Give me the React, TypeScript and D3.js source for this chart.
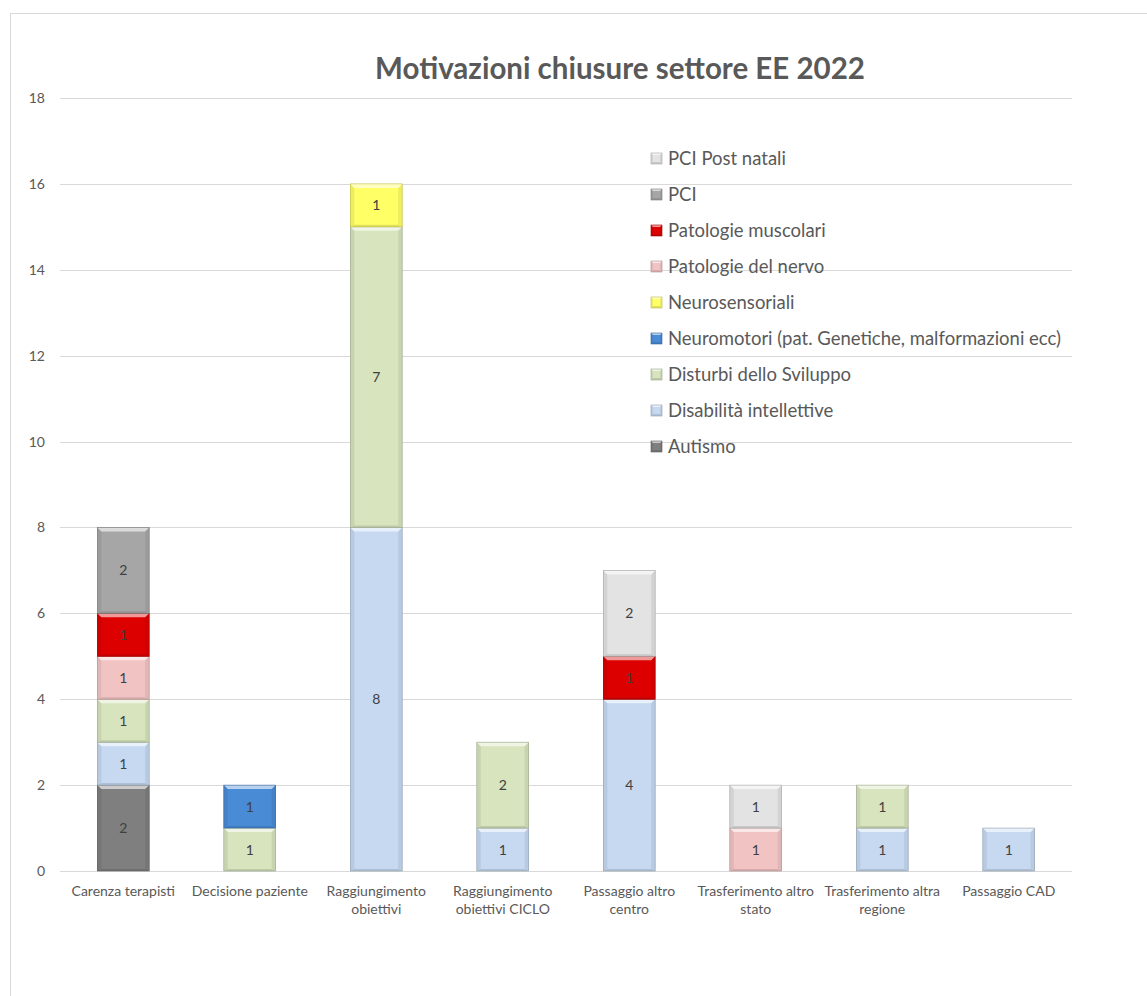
import React from "react";
import * as d3 from "d3";

const categories = [
  "Carenza terapisti",
  "Decisione paziente",
  "Raggiungimento obiettivi",
  "Raggiungimento obiettivi CICLO",
  "Passaggio altro centro",
  "Trasferimento altro stato",
  "Trasferimento altra regione",
  "Passaggio CAD",
];
const categoryLines = [
  ["Carenza terapisti"],
  ["Decisione paziente"],
  ["Raggiungimento", "obiettivi"],
  ["Raggiungimento", "obiettivi CICLO"],
  ["Passaggio altro", "centro"],
  ["Trasferimento altro", "stato"],
  ["Trasferimento altra", "regione"],
  ["Passaggio CAD"],
];
const seriesNames = [
  "Autismo",
  "Disabilità intellettive",
  "Disturbi dello Sviluppo",
  "Neuromotori (pat. Genetiche, malformazioni ecc)",
  "Neurosensoriali",
  "Patologie del nervo",
  "Patologie muscolari",
  "PCI",
  "PCI Post natali",
];
const autismo = [2, 0, 0, 0, 0, 0, 0, 0];
const disabilita = [1, 0, 8, 1, 4, 0, 1, 1];
const disturbi = [1, 1, 7, 2, 0, 0, 1, 0];
const neuromotori = [0, 1, 0, 0, 0, 0, 0, 0];
const neurosensoriali = [0, 0, 1, 0, 0, 0, 0, 0];
const patNervo = [1, 0, 0, 0, 0, 1, 0, 0];
const patMuscolari = [1, 0, 0, 0, 1, 0, 0, 0];
const pci = [2, 0, 0, 0, 0, 0, 0, 0];
const pciPostNatali = [0, 0, 0, 0, 2, 1, 0, 0];
const seriesValues = [autismo, disabilita, disturbi, neuromotori, neurosensoriali, patNervo, patMuscolari, pci, pciPostNatali];
const seriesColors = ["#7f7f7f", "#c6d9f1", "#d7e4bd", "#4a8bd6", "#ffff66", "#f2c3c3", "#dd0000", "#a6a6a6", "#e3e3e3"];
const yTicks = [0, 2, 4, 6, 8, 10, 12, 14, 16, 18];
const title = "Motivazioni chiusure settore EE 2022";

const FONT = "Lato, 'Open Sans', sans-serif";
const TXT = "#595959";

function Bevel({ x, y, w, h, color, b = 4 }: { x: number; y: number; w: number; h: number; color: string; b?: number }) {
  const c = d3.color(color)!;
  const light = d3.interpolateRgb(color, "#ffffff")(0.6);
  const dark = c.darker(0.35).formatHex();
  const side = c.darker(0.2).formatHex();
  const stroke = c.darker(0.9).formatHex();
  const bb = Math.min(b, h / 2, w / 2);
  const bbot = Math.min(2, bb);
  return (
    <g>
      <rect x={x} y={y} width={w} height={h} fill={color} />
      <polygon points={`${x},${y} ${x + bb},${y + bb} ${x + bb},${y + h - bbot} ${x},${y + h}`} fill={side} />
      <polygon points={`${x + w},${y} ${x + w - bb},${y + bb} ${x + w - bb},${y + h - bbot} ${x + w},${y + h}`} fill={side} />
      <polygon points={`${x},${y + h} ${x + w},${y + h} ${x + w - bb},${y + h - bbot} ${x + bb},${y + h - bbot}`} fill={dark} />
      <polygon points={`${x},${y} ${x + w},${y} ${x + w - bb},${y + bb} ${x + bb},${y + bb}`} fill={light} />
      <rect x={x} y={y} width={w} height={h} fill="none" stroke={stroke} strokeWidth={0.6} />
    </g>
  );
}

export default function App() {
  const W = 1147, H = 996;
  const x = d3.scaleBand<string>().domain(categories).range([60, 1072]).padding(0);
  const y = d3.scaleLinear().domain([0, 18]).range([871, 98]);
  const bw = x.step() * 0.41;

  const table = categories.map((c, i) => {
    const row: any = { cat: c };
    seriesNames.forEach((s, j) => (row[s] = seriesValues[j][i]));
    return row;
  });
  const stacked = d3.stack<any>().keys(seriesNames)(table);

  return (
    <svg width={W} height={H} style={{ position: "absolute", left: 0, top: 0, background: "#fff" }} fontFamily={FONT}>
      <rect x={10.5} y={13.5} width={W} height={H} fill="#fff" stroke="#d9d9d9" strokeWidth={1} />
      <text x={620} y={79} textAnchor="middle" fontSize={29.5} fontWeight="bold" fill={TXT}>{title}</text>
      {yTicks.map((t) => (
        <g key={t}>
          <line x1={60} x2={1072} y1={Math.round(y(t)) + 0.5} y2={Math.round(y(t)) + 0.5} stroke="#d9d9d9" strokeWidth={1} />
          <text x={45} y={y(t) + 5} textAnchor="end" fontSize={14} fill={TXT}>{t}</text>
        </g>
      ))}
      {stacked.map((layer, j) =>
        layer.map((d, i) => {
          const v = d[1] - d[0];
          if (!v) return null;
          const cx = x(categories[i])! + x.step() / 2;
          const y0 = y(d[1]), y1 = y(d[0]);
          return (
            <g key={`${j}-${i}`}>
              <Bevel x={cx - bw / 2} y={y0} w={bw} h={y1 - y0} color={seriesColors[j]} />
              <text x={cx} y={(y0 + y1) / 2 + 5} textAnchor="middle" fontSize={14} fill="#404040">{v}</text>
            </g>
          );
        })
      )}
      {categoryLines.map((lines, i) => (
        <text key={i} x={x(categories[i])! + x.step() / 2} y={896} textAnchor="middle" fontSize={14} fill={TXT}>
          {lines.map((l, k) => (
            <tspan key={k} x={x(categories[i])! + x.step() / 2} dy={k === 0 ? 0 : 18}>{l}</tspan>
          ))}
        </text>
      ))}
      {seriesNames.slice().reverse().map((s, k) => {
        const j = seriesNames.length - 1 - k;
        const ly = 158 + k * 36;
        return (
          <g key={s}>
            <Bevel x={651} y={ly - 5} w={11} h={11} color={seriesColors[j]} b={2} />
            <text x={668} y={ly + 6.5} fontSize={18.5} fill={TXT}>{s}</text>
          </g>
        );
      })}
    </svg>
  );
}
